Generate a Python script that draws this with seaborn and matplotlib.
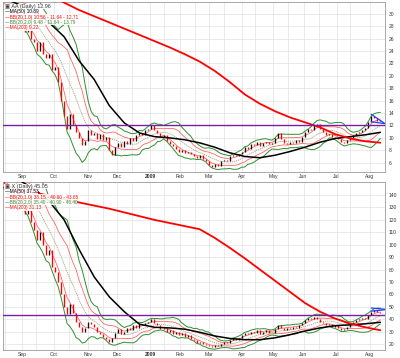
import numpy as np
import pandas as pd
import matplotlib
matplotlib.use("Agg")
import matplotlib.pyplot as plt
import seaborn as sns

# NYSE holidays in the window, so the x axis counts trading days like the source chart
holidays = ["2008-09-01", "2008-11-27", "2008-12-25", "2009-01-01", "2009-01-19",
            "2009-02-16", "2009-04-10", "2009-05-25", "2009-07-03"]
cbd = pd.offsets.CustomBusinessDay(holidays=holidays)

# closes read every 2nd trading day from 2008-07-17 (first 10 = lookback for BB(20))
aa_close = [33.0, 33.8, 32.5, 31.8, 32.8, 32.2, 31.5, 32.4, 31.2, 31.8,
            31.5, 31.0, 30.5, 31.2, 30.0, 29.5, 28.6, 27.0, 27.5, 26.0,
            25.5, 24.0, 25.5, 23.5, 22.8, 23.5, 21.0, 21.5, 19.0, 16.0,
            13.5, 11.5, 13.8, 12.0, 11.0, 10.0, 8.8, 9.5, 11.2, 10.5,
            10.8, 9.8, 10.6, 9.7, 10.2, 8.0, 7.3, 8.5, 9.2, 8.6,
            9.5, 9.0, 10.0, 9.5, 10.4, 10.8, 10.5, 11.2, 11.5, 12.0,
            11.3, 10.8, 10.2, 10.5, 9.5, 9.0, 8.7, 8.2, 7.8, 8.0,
            7.5, 7.8, 7.4, 7.0, 6.8, 7.2, 6.6, 6.2, 5.6, 5.3,
            5.8, 5.5, 6.2, 6.5, 6.3, 7.0, 7.3, 7.0, 7.4, 7.8,
            8.5, 8.2, 9.0, 8.8, 9.3, 8.7, 9.1, 9.4, 9.0, 9.2,
            10.0, 10.8, 9.8, 9.2, 9.0, 9.4, 9.1, 9.6, 9.3, 10.2,
            11.0, 11.5, 11.3, 12.0, 12.2, 11.4, 11.0, 10.5, 10.7, 10.2,
            10.0, 9.8, 9.4, 9.2, 9.6, 9.9, 10.4, 10.8, 11.0, 11.3,
            11.6, 12.6, 13.5, 13.2, 12.7, 12.96]

x_close = [158, 164, 156, 150, 157, 162, 153, 148, 153, 151,
           150, 148, 145, 148, 143, 140, 132, 125, 128, 118,
           112, 104, 110, 100, 92, 96, 82, 78, 70, 60,
           50, 44, 52, 45, 38, 34, 30, 33, 38, 36,
           34, 30, 28, 26, 24, 22, 25, 29, 32, 28,
           30, 33, 31, 35, 33, 36, 35, 37, 38, 40,
           37, 35, 32, 33, 30, 31, 28, 30, 27, 29,
           26, 27, 24, 23, 21, 22, 20, 19.5, 18.5, 18,
           19, 18.5, 20, 22, 21, 23, 25, 23.5, 25, 27,
           29, 28, 30, 29, 31, 28, 29.5, 31, 28.5, 29,
           32, 35, 33, 31.5, 33, 32, 34, 33, 35, 37,
           39, 41, 40, 42, 40, 38, 37, 35, 36, 34,
           35, 33, 31.5, 32, 34, 36, 38, 39, 40, 41,
           40.5, 43, 46, 47.5, 46, 45.05]

# moving averages read every 10 trading days from 2008-08-14
aa_ma50 = [32.5, 31.5, 30.3, 28.6, 26.3, 22.4, 19.4, 15.2, 12.4, 10.8, 10.2, 10.0, 9.7,
           9.2, 8.5, 7.6, 7.0, 6.8, 7.2, 7.8, 8.5, 9.3, 9.9, 10.2, 10.5, 10.89]
aa_ma200 = [36.5, 35.3, 34.2, 33.0, 31.8, 30.6, 29.6, 28.6, 27.6, 26.6, 25.6, 24.6, 23.5,
            22.3, 20.8, 19.0, 17.0, 15.5, 14.3, 13.3, 12.5, 11.7, 10.6, 9.9, 9.45, 9.22]
x_ma50 = [160, 152, 145, 135, 120, 96, 74, 58, 46, 36, 33.5, 33, 32,
          29.5, 26.5, 24.5, 23.5, 23.5, 25, 27.5, 30.5, 33, 34.8, 35.5, 36.3, 37.53]
x_ma200 = [146, 144, 142, 139.5, 136.5, 134, 131.5, 129, 126, 123, 120, 117.5, 115,
           112.5, 105.5, 97.5, 89, 80, 71, 62, 53, 46, 40.5, 36.5, 33.5, 31.13]

# annotation lines (horizontal level and the small wedge at the right)
aa_level = 12
x_level = 43
wedge_t = [244, 253]
aa_wedge_hi = [13.8, 12.3]
aa_wedge_lo = [12.6, 12.3]
x_wedge_hi = [49.0, 48.0]
x_wedge_lo = [46.5, 47.6]

month_labels = ["Sep", "Oct", "Nov", "Dec", "2009", "Feb", "Mar", "Apr", "May", "Jun", "Jul", "Aug"]

aa_legend = ["AA (Daily) 12.96", "MA(50) 10.89", "BB(20,1.0) 10.56 - 11.64 - 12.71",
             "BB(20,2.0) 9.48 - 11.64 - 13.79", "MA(200) 9.22"]
x_legend = ["X (Daily) 45.05", "MA(50) 37.53", "BB(20,1.0) 38.15 - 40.90 - 43.65",
            "BB(20,2.0) 35.40 - 40.90 - 46.40", "MA(200) 31.13"]

sns.set_style("white")
plt.rcParams['font.family'] = ['Liberation Sans', 'DejaVu Sans']

days = pd.date_range("2008-07-17", periods=2 * len(aa_close) + 10, freq=cbd)
t_all = np.arange(len(days)) - days.get_loc(pd.Timestamp("2008-08-14"))
t_close = t_all[:2 * len(aa_close):2]
t_ma = np.arange(len(aa_ma50)) * 10

month_t = [t_all[days.searchsorted(m)] for m in pd.date_range("2008-09-01", "2009-08-01", freq="MS")]
grid_t = [t_all[days.searchsorted(m)] for m in pd.date_range("2008-08-15", "2009-08-14", freq="SMS")]

GREEN = "#2f8f2f"
RED = "#ff0000"
BAND_RED = "#ff5a5a"
MID = "#a5a070"
PURPLE = "#7a1fa0"
BLUE = "#1f3fff"


def draw_panel(ax, close, ma50, ma200, level, w_hi, w_lo, ylim, yticks, legend):
    s = pd.Series(close, dtype=float)
    mid = s.rolling(10).mean()
    sd = s.rolling(10).std(ddof=0)

    for g in grid_t:
        ax.axvline(g, color="#e2e2e2", lw=0.5, zorder=0)
    for yv in yticks:
        ax.axhline(yv, color="#e2e2e2", lw=0.5, zorder=0)

    sns.lineplot(x=t_close, y=(mid + 2 * sd).values, ax=ax, color=GREEN, lw=0.7)
    sns.lineplot(x=t_close, y=(mid - 2 * sd).values, ax=ax, color=GREEN, lw=0.7)
    sns.lineplot(x=t_close, y=(mid + sd).values, ax=ax, color=BAND_RED, lw=0.55)
    sns.lineplot(x=t_close, y=(mid - sd).values, ax=ax, color=BAND_RED, lw=0.55)
    sns.lineplot(x=t_close, y=mid.values, ax=ax, color=MID, lw=0.6, linestyle=(0, (1.5, 1)))

    # candles: body from the previous close to this close
    op = s.shift(1).values
    keep = t_close >= 0
    cols = np.where(s.values < op, RED, "#111111")
    ax.vlines(t_close[keep], op[keep], s.values[keep], colors=cols[keep], lw=0.95, zorder=3)

    sns.lineplot(x=t_ma, y=ma50, ax=ax, color="black", lw=1.1, zorder=4)
    sns.lineplot(x=t_ma, y=ma200, ax=ax, color=RED, lw=1.3, zorder=4)

    ax.axhline(level, color=PURPLE, lw=1.0, zorder=5)
    sns.lineplot(x=wedge_t, y=w_hi, ax=ax, color=BLUE, lw=0.9, zorder=5)
    sns.lineplot(x=wedge_t, y=w_lo, ax=ax, color=BLUE, lw=0.9, zorder=5)

    ax.set_xlim(-0.6, 253.1)
    ax.set_ylim(*ylim)
    ax.set_yticks(yticks)
    ax.set_yticklabels([str(v) for v in yticks])
    ax.yaxis.tick_right()
    ax.tick_params(axis="y", labelsize=3.6, length=0, pad=2.5, colors="#333333")
    ax.set_xticks(month_t)
    ax.set_xticklabels(month_labels)
    ax.tick_params(axis="x", labelsize=3.6, length=0, pad=1.5, colors="#333333")
    for lab in ax.get_xticklabels():
        if lab.get_text() == "2009":
            lab.set_fontweight("bold")
    ax.set_xlabel("")
    ax.set_ylabel("")
    for sp in ax.spines.values():
        sp.set_color("#9a9a9a")
        sp.set_linewidth(0.6)

    h = ax.get_window_extent().height
    colors = ["#333333", "black", RED, GREEN, RED]
    for i, (txt, c) in enumerate(zip(legend, colors)):
        y = 1 - (4.5 + 5.3 * i) / h
        label = ("\u25a3 " + txt) if i == 0 else ("\u2014" + txt)
        ax.text(0.004, y, label, transform=ax.transAxes, fontsize=3.9 if i == 0 else 3.4,
                color=c, va="center", ha="left", zorder=10,
                bbox=dict(fc="white", ec="none", pad=0.25, alpha=0.9))


fig = plt.figure(figsize=(4, 3.58), dpi=100)
ax1 = fig.add_axes([3 / 400, 1 - 172 / 358, 382 / 400, 170 / 358])
ax2 = fig.add_axes([3 / 400, 1 - 350 / 358, 382 / 400, 168 / 358])

draw_panel(ax1, aa_close, aa_ma50, aa_ma200, aa_level, aa_wedge_hi, aa_wedge_lo,
           (4.5, 31.9), list(range(6, 31, 2)), aa_legend)
draw_panel(ax2, x_close, x_ma50, x_ma200, x_level, x_wedge_hi, x_wedge_lo,
           (15.2, 150.5), list(range(20, 141, 10)), x_legend)

fig.savefig("out.png", dpi=100)
